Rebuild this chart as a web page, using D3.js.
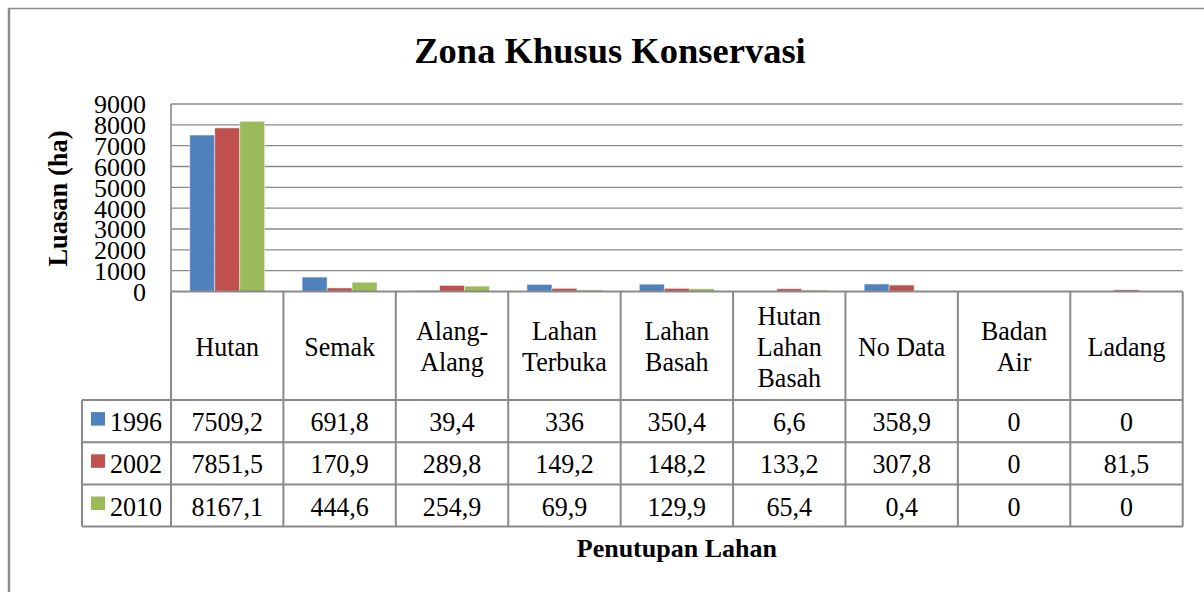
<!DOCTYPE html>
<html>
<head>
<meta charset="utf-8">
<script src="https://cdn.jsdelivr.net/npm/d3@7"></script>
<style>
  html, body { margin: 0; padding: 0; background: #fff; }
  svg { display: block; }
  svg text { font-family: "Liberation Serif", "Times New Roman", serif; }
</style>
</head>
<body>
<svg id="chart" width="1204" height="592"></svg>
<script>
const categories = ["Hutan", "Semak", "Alang-\nAlang", "Lahan\nTerbuka", "Lahan\nBasah", "Hutan\nLahan\nBasah", "No Data", "Badan\nAir", "Ladang"];
const seriesNames = ["1996", "2002", "2010"];
const values1996 = [7509.2, 691.8, 39.4, 336, 350.4, 6.6, 358.9, 0, 0];
const values2002 = [7851.5, 170.9, 289.8, 149.2, 148.2, 133.2, 307.8, 0, 81.5];
const values2010 = [8167.1, 444.6, 254.9, 69.9, 129.9, 65.4, 0.4, 0, 0];
const yTicks = [0, 1000, 2000, 3000, 4000, 5000, 6000, 7000, 8000, 9000];
const colors = ["#4F81BD", "#C0504D", "#9BBB59"];
const titleText = "Zona Khusus Konservasi";
const yTitle = "Luasan (ha)";
const xTitle = "Penutupan Lahan";

const seriesValues = [values1996, values2002, values2010];
const FONT = "Liberation Serif, Times New Roman, serif";

const svg = d3.select("#chart");
const lineColor = "#8a8a8a";

const plotL = 171, plotR = 1182.7, plotT = 104, plotB = 291.5;
const headerB = 400, rowH = 42.2, legendL = 82;
const sy = 1.07;

// outer chart frame (left and top visible)
svg.append("line").attr("x1", 9).attr("x2", 9).attr("y1", 8).attr("y2", 592)
  .attr("stroke", "#8c8c8c").attr("stroke-width", 2.5);
svg.append("line").attr("x1", 8).attr("x2", 1204).attr("y1", 8.5).attr("y2", 8.5)
  .attr("stroke", "#8c8c8c").attr("stroke-width", 1.5);

const x = d3.scaleBand().domain(categories).range([plotL, plotR]).paddingInner(0).paddingOuter(0);
const xs = d3.scaleBand().domain(seriesNames).range([0, x.bandwidth()]).paddingInner(0).paddingOuter(0.75);
const y = d3.scaleLinear().domain([0, 9000]).range([plotB, plotT]);

// gridlines
svg.append("g").selectAll("line").data(yTicks.filter(t => t > 0)).join("line")
  .attr("x1", plotL).attr("x2", plotR)
  .attr("y1", d => y(d)).attr("y2", d => y(d))
  .attr("stroke", lineColor).attr("stroke-width", 1.4);

// y axis line
svg.append("line").attr("x1", plotL).attr("x2", plotL).attr("y1", plotT).attr("y2", plotB)
  .attr("stroke", lineColor).attr("stroke-width", 1.6);

// y tick labels
const yAxis = d3.axisLeft(y).tickValues(yTicks).tickSize(0).tickPadding(0).tickFormat(d3.format("d"));
const gy = svg.append("g").attr("transform", "translate(146,0)").call(yAxis);
gy.attr("font-family", FONT).attr("font-size", 26);
gy.select(".domain").remove();
gy.selectAll("text").attr("font-size", 26).attr("fill", "#000")
  .attr("font-family", FONT).attr("dy", "0.34em");

// bars
const barData = [];
categories.forEach((c, i) => seriesNames.forEach((s, j) => barData.push({ c, s, v: seriesValues[j][i], j })));
svg.append("g").selectAll("rect").data(barData).join("rect")
  .attr("x", d => x(d.c) + xs(d.s))
  .attr("width", xs.bandwidth())
  .attr("y", d => y(d.v))
  .attr("height", d => plotB - y(d.v))
  .attr("fill", d => colors[d.j])
  .attr("stroke", "rgba(255,255,255,0.45)").attr("stroke-width", 1);

// helper for text with slight vertical stretch
function txt(g, tx, ty, s, opts = {}) {
  return g.append("text")
    .attr("transform", `translate(${tx},${ty}) scale(1,${sy})`)
    .attr("text-anchor", opts.anchor || "middle")
    .attr("font-family", FONT)
    .attr("font-size", opts.size || 26)
    .attr("font-weight", opts.weight || "normal")
    .attr("fill", "#000")
    .text(s);
}

// data table
const tbl = svg.append("g");
const rowsY = [headerB, headerB + rowH, headerB + 2 * rowH, headerB + 3 * rowH];
tbl.append("line").attr("x1", plotL).attr("x2", plotR).attr("y1", plotB).attr("y2", plotB)
  .attr("stroke", lineColor).attr("stroke-width", 2);
rowsY.forEach(ry => tbl.append("line").attr("x1", legendL).attr("x2", plotR).attr("y1", ry).attr("y2", ry)
  .attr("stroke", lineColor).attr("stroke-width", 2));
const colEdges = categories.map(c => x(c)).concat([plotR]);
colEdges.forEach(cx => tbl.append("line").attr("x1", cx).attr("x2", cx).attr("y1", plotB).attr("y2", rowsY[3])
  .attr("stroke", lineColor).attr("stroke-width", 2));
tbl.append("line").attr("x1", legendL).attr("x2", legendL).attr("y1", headerB).attr("y2", rowsY[3])
  .attr("stroke", lineColor).attr("stroke-width", 2);

// header labels
const headerC = (plotB + headerB) / 2;
categories.forEach(c => {
  const lines = c.split("\n");
  const cx = x(c) + x.bandwidth() / 2;
  lines.forEach((ln, k) => {
    const cy = headerC + (k - (lines.length - 1) / 2) * 31;
    txt(tbl, cx, cy + 10, ln);
  });
});

// rows
const fmt = v => String(v).replace(".", ",");
seriesNames.forEach((s, j) => {
  const cy = rowsY[j] + rowH / 2;
  tbl.append("rect").attr("x", 91).attr("y", cy - 9).attr("width", 14).attr("height", 13.5)
    .attr("fill", colors[j]);
  txt(tbl, 110, cy + 10, s, { anchor: "start" });
  categories.forEach((c, i) => {
    txt(tbl, x(c) + x.bandwidth() / 2, cy + 10, fmt(seriesValues[j][i]));
  });
});

// titles
svg.append("text").attr("x", 610).attr("y", 62.5).attr("text-anchor", "middle")
  .attr("font-family", FONT).attr("font-size", 36.5).attr("font-weight", "bold").text(titleText);
svg.append("text").attr("transform", `translate(67,198.5) rotate(-90)`).attr("text-anchor", "middle")
  .attr("font-family", FONT).attr("font-size", 26.5).attr("font-weight", "bold").text(yTitle);
svg.append("text").attr("x", (plotL + plotR) / 2).attr("y", 557).attr("text-anchor", "middle")
  .attr("font-family", FONT).attr("font-size", 26).attr("font-weight", "bold").text(xTitle);
</script>
</body>
</html>
